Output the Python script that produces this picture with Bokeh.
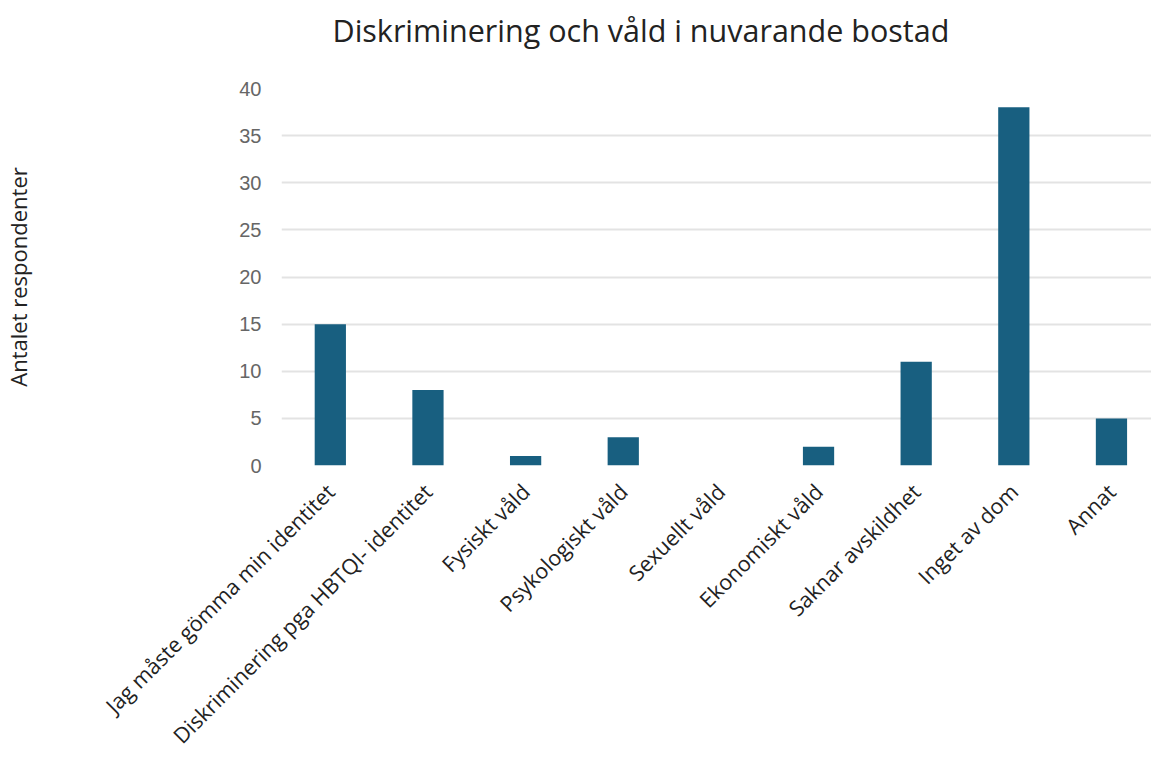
import math
from bokeh.plotting import figure
from bokeh.models import Range1d, FixedTicker, Title
from bokeh.embed import file_html
from bokeh.resources import INLINE

categories = [
    "Jag måste gömma min identitet",
    "Diskriminering pga HBTQI- identitet",
    "Fysiskt våld",
    "Psykologiskt våld",
    "Sexuellt våld",
    "Ekonomiskt våld",
    "Saknar avskildhet",
    "Inget av dom",
    "Annat",
]
counts = [15, 8, 1, 3, 0, 2, 11, 38, 5]
y_ticks = [0, 5, 10, 15, 20, 25, 30, 35, 40]
title_text = "Diskriminering och våld i nuvarande bostad"

x_pos = list(range(len(categories)))

p = figure(
    width=1151, height=762,
    x_range=Range1d(-0.5, 8.41),
    y_range=Range1d(0, 40),
    output_backend="svg", toolbar_location=None,
    min_border_top=88, min_border_right=0, min_border_left=10, min_border_bottom=0,
)

p.vbar(x=x_pos, top=counts, width=0.32, fill_color="#185f80", line_color=None)

# spacer between the frame and the title (innermost panel)
p.add_layout(Title(text=" ", text_font_size="2px", standoff=28), "above")
p.add_layout(Title(text=title_text, text_font="Open Sans", text_font_size="30.5px",
                   text_font_style="normal", text_color="#222222",
                   align="left", offset=51, standoff=12), "above")

p.outline_line_color = None
p.xgrid.grid_line_color = None
p.ygrid.grid_line_color = "#e3e3e3"
p.ygrid.grid_line_width = 2

p.yaxis.ticker = FixedTicker(ticks=y_ticks)
p.yaxis.axis_line_color = None
p.yaxis.major_tick_line_color = None
p.yaxis.minor_tick_line_color = None
p.yaxis.major_tick_out = 0
p.yaxis.major_tick_in = 0
p.yaxis.major_label_text_font = "Liberation Sans"
p.yaxis.major_label_text_font_size = "20px"
p.yaxis.major_label_text_color = "#666666"
p.yaxis.major_label_standoff = 20
p.yaxis.axis_label = "Antalet respondenter"
p.yaxis.axis_label_text_font = "Open Sans"
p.yaxis.axis_label_text_font_size = "22px"
p.yaxis.axis_label_text_font_style = "normal"
p.yaxis.axis_label_text_color = "#222222"
p.yaxis.axis_label_standoff = 203

p.xaxis.ticker = FixedTicker(ticks=x_pos)
p.xaxis.major_label_overrides = {i: c for i, c in zip(x_pos, categories)}
p.xaxis.axis_line_color = None
p.xaxis.major_tick_line_color = None
p.xaxis.minor_tick_line_color = None
p.xaxis.major_tick_out = 0
p.xaxis.major_tick_in = 0
p.xaxis.major_label_orientation = math.pi / 4
p.xaxis.major_label_text_font = "Open Sans"
p.xaxis.major_label_text_font_size = "21.5px"
p.xaxis.major_label_text_color = "#222222"
p.xaxis.major_label_standoff = 22

open("out.html", "w").write(file_html(p, INLINE))
